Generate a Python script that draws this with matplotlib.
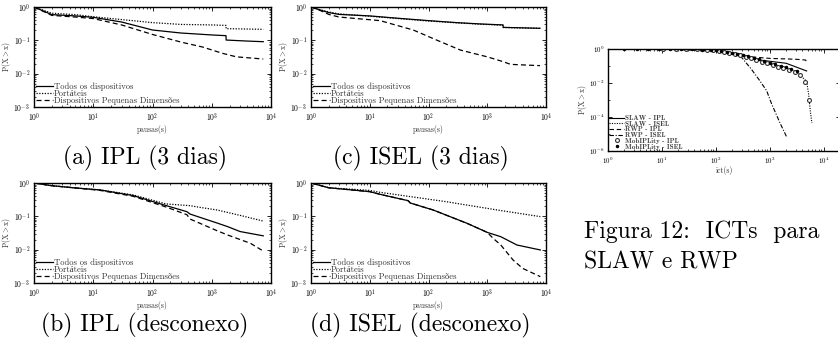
import numpy as np
import matplotlib
matplotlib.use("Agg")
import matplotlib.pyplot as plt
from matplotlib.ticker import LogLocator, NullFormatter

plt.rcParams['font.family'] = ['cmr10', 'Liberation Serif', 'DejaVu Serif']
plt.rcParams['mathtext.fontset'] = 'cm'
plt.rcParams['axes.formatter.use_mathtext'] = True

SERIF = ['cmr10', 'Liberation Serif', 'DejaVu Serif']
BOLD = ['cmb10', 'Liberation Serif', 'DejaVu Serif']

# ---------------- data ----------------
labels_pd = ["Todos os dispositivos", "Portáteis", "Dispositivos Pequenas Dimensões"]

# (a) IPL (3 dias)
a_todos_x = [1, 2, 5, 10, 30, 100, 300, 1000, 1740, 1750, 4000, 7400]
a_todos_y = [1, 0.59, 0.54, 0.49, 0.355, 0.204, 0.166, 0.145, 0.138, 0.102, 0.095, 0.091]
a_port_x = [1, 2, 5, 10, 30, 100, 300, 1000, 1740, 1750, 7400]
a_port_y = [1, 0.65, 0.59, 0.51, 0.42, 0.34, 0.30, 0.29, 0.28, 0.224, 0.214]
a_pd_x = [1, 2, 5, 10, 30, 100, 300, 700, 1500, 2600, 7400]
a_pd_y = [1, 0.56, 0.50, 0.45, 0.29, 0.15, 0.089, 0.063, 0.041, 0.032, 0.0275]

# (c) ISEL (3 dias)
c_todos_x = [1, 1.5, 2, 3, 10, 30, 100, 300, 760, 1850, 1870, 7900]
c_todos_y = [1, 0.79, 0.68, 0.60, 0.54, 0.46, 0.39, 0.34, 0.31, 0.29, 0.245, 0.23]
c_port_x = [1, 1.5, 2, 3, 10, 30, 100, 300, 760, 1850, 1870, 7900]
c_port_y = [1, 0.81, 0.71, 0.62, 0.53, 0.45, 0.38, 0.335, 0.305, 0.285, 0.242, 0.228]
c_pd_x = [1, 1.5, 2, 3, 15, 55, 160, 350, 1000, 1850, 2500, 7900]
c_pd_y = [1, 0.76, 0.60, 0.50, 0.39, 0.204, 0.091, 0.051, 0.032, 0.023, 0.019, 0.0174]

# (b) IPL (desconexo)
b_todos_x = [1, 2, 5, 13, 47, 170, 380, 430, 1230, 1860, 3000, 7400]
b_todos_y = [1, 0.83, 0.71, 0.62, 0.42, 0.21, 0.138, 0.117, 0.063, 0.049, 0.035, 0.026]
b_port_x = [1, 2, 5, 13, 47, 170, 430, 630, 1230, 3000, 7400]
b_port_y = [1, 0.83, 0.71, 0.62, 0.44, 0.235, 0.209, 0.186, 0.155, 0.107, 0.072]
b_pd_x = [1, 2, 5, 13, 47, 170, 380, 430, 1230, 1860, 4500, 7400]
b_pd_y = [1, 0.83, 0.71, 0.60, 0.40, 0.19, 0.112, 0.083, 0.037, 0.0275, 0.0155, 0.0091]

# (d) ISEL (desconexo)
d_todos_x = [1, 2, 10, 15, 45, 49, 120, 450, 1000, 1700, 3200, 8000]
d_todos_y = [1, 0.72, 0.55, 0.457, 0.295, 0.251, 0.155, 0.062, 0.033, 0.0245, 0.0138, 0.0098]
d_port_x = [1, 2, 10, 15, 200, 1480, 8000]
d_port_y = [1, 0.72, 0.60, 0.525, 0.275, 0.155, 0.098]
d_pd_x = [1, 2, 10, 15, 45, 49, 120, 450, 1000, 1260, 1700, 2750, 4000, 8000]
d_pd_y = [1, 0.72, 0.55, 0.457, 0.295, 0.251, 0.155, 0.062, 0.033, 0.0219, 0.0138, 0.0049, 0.00275, 0.00155]

# Figura 12: ICTs
slaw_ipl_x = [1, 10, 50, 100, 300, 650, 2000, 4800]
slaw_ipl_y = [1, 1, 0.955, 0.83, 0.5, 0.224, 0.145, 0.051]
slaw_isel_x = [1, 10, 100, 300, 1000, 3000, 4800, 5200, 5600, 6000]
slaw_isel_y = [1, 1, 0.83, 0.45, 0.141, 0.05, 0.0126, 0.0025, 0.00025, 0.0000447]
rwp_ipl_x = [1, 10, 100, 200, 400, 1000, 3000, 4600, 5000]
rwp_ipl_y = [1, 1, 0.76, 0.5, 0.355, 0.28, 0.25, 0.224, 0.141]
rwp_isel_x = [1, 10, 50, 100, 275, 457, 646, 870, 1070, 1550, 2040]
rwp_isel_y = [1, 1, 0.93, 0.79, 0.45, 0.063, 0.0141, 0.00355, 0.00063, 0.0000427, 0.0000069]
mob_ipl_x = [10.5, 18.2, 27.5, 43.7, 67.6, 89.1, 112, 141, 178, 224, 282, 355, 447,
             562, 708, 891, 1122, 1413, 1778, 2239, 2884, 3548, 4467, 5370]
mob_ipl_y = [1, 1, 0.977, 0.955, 0.933, 0.851, 0.759, 0.676, 0.575, 0.490, 0.417, 0.355,
             0.282, 0.224, 0.178, 0.141, 0.110, 0.0871, 0.0724, 0.0603, 0.0468, 0.0282,
             0.0120, 0.001]
mob_isel_x = [2, 3.5, 5.6, 8.9, 14.1, 22.4, 35.5, 56.2, 79.4, 100, 126, 158, 200, 251,
              316, 398, 501, 631, 794, 1000, 1259, 1585, 1995, 2512, 3162]
mob_isel_y = [1, 1, 1, 1, 0.977, 0.977, 0.955, 0.933, 0.891, 0.832, 0.759, 0.676, 0.603,
              0.525, 0.447, 0.380, 0.316, 0.251, 0.200, 0.158, 0.126, 0.100, 0.0832,
              0.0692, 0.0501]
labels_ict = ["SLAW - IPL", "SLAW - ISEL", "RWP - IPL", "RWP - ISEL",
              "MobIPLity - IPL", "MobIPLity - ISEL"]

captions = ["(a) IPL (3 dias)", "(c) ISEL (3 dias)", "(b) IPL (desconexo)", "(d) ISEL (desconexo)"]

# ---------------- figure ----------------
W, H = 838, 348
fig = plt.figure(figsize=(W / 100, H / 100), dpi=100)


def px_axes(x0, y0, x1, y1):
    return fig.add_axes([x0 / W, 1 - y1 / H, (x1 - x0) / W, (y1 - y0) / H])


def style_log(ax, xlim, ylim, ystep=1, fs=5.5):
    ax.set_xscale('log')
    ax.set_yscale('log')
    ax.set_xlim(*xlim)
    ax.set_ylim(*ylim)
    ax.xaxis.set_major_locator(LogLocator(base=10, numticks=20))
    ax.xaxis.set_minor_locator(LogLocator(base=10, subs=np.arange(2, 10), numticks=50))
    if ystep == 1:
        ax.yaxis.set_major_locator(LogLocator(base=10, numticks=20))
        ax.yaxis.set_minor_locator(LogLocator(base=10, subs=np.arange(2, 10), numticks=50))
    else:
        ax.yaxis.set_major_locator(LogLocator(base=100, numticks=20))
        ax.yaxis.set_minor_locator(LogLocator(base=10, subs=[1.0], numticks=50))
    ax.yaxis.set_minor_formatter(NullFormatter())
    ax.xaxis.set_minor_formatter(NullFormatter())
    ax.tick_params(which='both', direction='in', top=True, right=True, labelsize=fs)
    ax.tick_params(axis='x', pad=3.2)
    ax.tick_params(axis='y', pad=2.8)
    ax.tick_params(which='major', length=3, width=0.6)
    ax.tick_params(which='minor', length=1.5, width=0.5)
    for s in ax.spines.values():
        s.set_linewidth(1.0)


panels = [
    ((34, 7, 271, 107), (a_todos_x, a_todos_y), (a_port_x, a_port_y), (a_pd_x, a_pd_y), 158),
    ((311, 7, 546, 107), (c_todos_x, c_todos_y), (c_port_x, c_port_y), (c_pd_x, c_pd_y), 158),
    ((34, 183, 271, 283), (b_todos_x, b_todos_y), (b_port_x, b_port_y), (b_pd_x, b_pd_y), 325),
    ((311, 183, 546, 283), (d_todos_x, d_todos_y), (d_port_x, d_port_y), (d_pd_x, d_pd_y), 325),
]

for i, (box, s1, s2, s3, cy) in enumerate(panels):
    ax = px_axes(*box)
    ax.plot(s1[0], s1[1], color='black', lw=0.9, ls='-', label=labels_pd[0])
    ax.plot(s2[0], s2[1], color='black', lw=0.9, ls=(0, (1, 1.2)), label=labels_pd[1])
    ax.plot(s3[0], s3[1], color='black', lw=0.9, ls=(0, (4, 2.5)), label=labels_pd[2])
    style_log(ax, (1, 1e4), (1e-3, 1))
    ax.set_xlabel("pausas(s)", fontsize=5.5, labelpad=0.5, family=SERIF, color='#333333')
    ax.set_ylabel(r"$\mathrm{P(X>x)}$", fontsize=5.5, labelpad=0.5, color='#333333')
    leg = ax.legend(loc='lower left', frameon=False, handlelength=2.0,
                    handletextpad=0.1, labelspacing=-0.15, borderaxespad=0.1,
                    borderpad=0.1, prop={'family': SERIF, 'size': 6.2})
    for t in leg.get_texts():
        t.set_color('#333333')
    cx = (box[0] + box[2]) / 2 - 8
    fig.text(cx / W, 1 - cy / H, captions[i], fontsize=17, ha='center', va='center',
             family=SERIF)

# ICT panel
ax = px_axes(608, 49, 840, 151)
ax.plot(slaw_ipl_x, slaw_ipl_y, color='black', lw=0.8, ls='-', label=labels_ict[0])
ax.plot(slaw_isel_x, slaw_isel_y, color='black', lw=0.8, ls=(0, (1, 1.2)), label=labels_ict[1])
ax.plot(rwp_ipl_x, rwp_ipl_y, color='black', lw=0.8, ls=(0, (4, 2.5)), label=labels_ict[2])
ax.plot(rwp_isel_x, rwp_isel_y, color='black', lw=0.8, ls=(0, (4, 1.5, 1, 1.5)), label=labels_ict[3])
ax.plot(mob_ipl_x, mob_ipl_y, ls='none', marker='o', ms=2.8, mfc='white', mec='#333333',
        mew=0.8, label=labels_ict[4])
ax.plot(mob_isel_x, mob_isel_y, ls='none', marker='.', ms=3, color='black', label=labels_ict[5])
style_log(ax, (1, 10 ** 4.3), (1e-6, 1), ystep=2, fs=5)
ax.set_xlabel("ict(s)", fontsize=5.5, labelpad=0.5, family=SERIF, color='#333333')
ax.set_ylabel(r"$\mathrm{P(X>x)}$", fontsize=5.5, labelpad=0, color='#333333')
leg = ax.legend(loc='lower left', frameon=False, handlelength=2.0,
                handletextpad=0.1, labelspacing=-0.05, borderaxespad=0.1, borderpad=0.1,
                prop={'family': BOLD, 'size': 5.2})
for t in leg.get_texts():
    t.set_color('#444444')

fig.text(584 / W, 1 - 232 / H, "Figura 12:  ICTs  para", fontsize=17, ha='left',
         va='center', family=SERIF)
fig.text(584 / W, 1 - 262 / H, "SLAW e RWP", fontsize=17, ha='left', va='center',
         family=SERIF)

fig.savefig("out.png", dpi=100)
